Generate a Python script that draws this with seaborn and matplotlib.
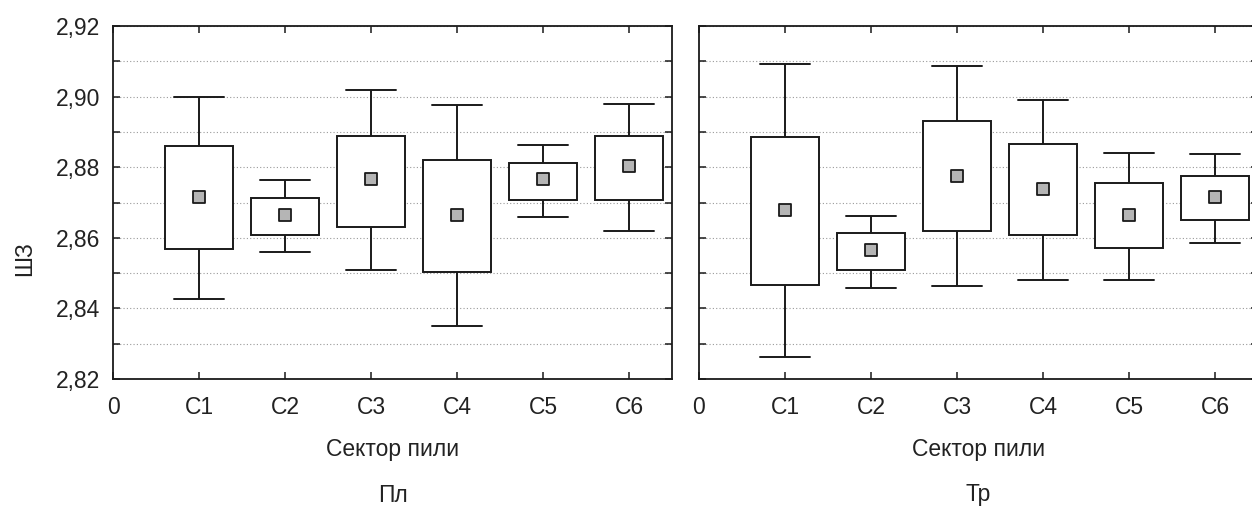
import numpy as np
import pandas as pd
import matplotlib
matplotlib.use("Agg")
import matplotlib.pyplot as plt
import seaborn as sns
from matplotlib.ticker import MultipleLocator, FuncFormatter

# ---- data ----
sectors = ["C1", "C2", "C3", "C4", "C5", "C6"]

pl_min = [2.8427, 2.8559, 2.8508, 2.8349, 2.8658, 2.8618]
pl_q1 = [2.8568, 2.8608, 2.8631, 2.8503, 2.8708, 2.8708]
pl_med = [2.8716, 2.8665, 2.8766, 2.8665, 2.8766, 2.8802]
pl_q3 = [2.8859, 2.8713, 2.8889, 2.8821, 2.8813, 2.8889]
pl_max = [2.9000, 2.8763, 2.9018, 2.8976, 2.8862, 2.8980]

tr_min = [2.8262, 2.8459, 2.8463, 2.8481, 2.8481, 2.8585]
tr_q1 = [2.8467, 2.8509, 2.8618, 2.8608, 2.8572, 2.8650]
tr_med = [2.8679, 2.8565, 2.8774, 2.8738, 2.8665, 2.8715]
tr_q3 = [2.8886, 2.8613, 2.8931, 2.8867, 2.8754, 2.8776]
tr_max = [2.9091, 2.8663, 2.9086, 2.8990, 2.8839, 2.8836]

panel_titles = ["Пл", "Тр"]
x_title = "Сектор пили"
y_title = "ШЗ"
y_ticks = [2.82, 2.84, 2.86, 2.88, 2.90, 2.92]


def long_frame(mins, q1s, meds, q3s, maxs):
    rows = []
    for s, a, b, c, d, e in zip(sectors, mins, q1s, meds, q3s, maxs):
        for v in (a, b, c, d, e):
            rows.append({"sector": s, "value": v})
    return pd.DataFrame(rows)


panels = [
    (long_frame(pl_min, pl_q1, pl_med, pl_q3, pl_max), pl_med),
    (long_frame(tr_min, tr_q1, tr_med, tr_q3, tr_max), tr_med),
]

sns.set_style("white")
plt.rcParams["font.family"] = ["Liberation Sans", "DejaVu Sans"]

W, H = 1252, 507
fig = plt.figure(figsize=(W / 100, H / 100), dpi=100)
ax1 = fig.add_axes([113 / W, 1 - 379 / H, 559 / W, 353 / H])
ax2 = fig.add_axes([699 / W, 1 - 379 / H, 559 / W, 353 / H])

edge = "#1a1a1a"
txt = "#222222"
order = ["0"] + sectors
FS = 16.5

for i, (ax, (df, meds), title) in enumerate(zip([ax1, ax2], panels, panel_titles)):
    sns.boxplot(data=df, x="sector", y="value", order=order, whis=(0, 100),
                width=0.8, color="white", linecolor=edge, linewidth=1.4,
                fill=True, saturation=1, showfliers=False,
                medianprops=dict(linewidth=0), ax=ax, zorder=3)
    sns.stripplot(x=sectors, y=meds, order=order, jitter=False, marker="s",
                  size=8.5, color="#b5b5b5", edgecolor=edge, linewidth=1.3,
                  ax=ax, zorder=6)
    # widen whisker caps
    for ln in ax.lines:
        xd = np.asarray(ln.get_xdata(), dtype=float)
        yd = np.asarray(ln.get_ydata(), dtype=float)
        if len(xd) == 2 and yd[0] == yd[1] and abs(abs(xd[1] - xd[0]) - 0.4) < 1e-6:
            c = xd.mean()
            ln.set_xdata([c - 0.285, c + 0.285])

    ax.set_xlim(0, 6.5)
    ax.set_ylim(2.82, 2.92)
    ax.set_yticks(y_ticks)
    ax.yaxis.set_minor_locator(MultipleLocator(0.01))
    ax.yaxis.set_major_formatter(FuncFormatter(lambda v, p: f"{v:.2f}".replace(".", ",")))
    ax.grid(True, which="both", axis="y", linestyle=(0, (1, 2)), color="#9a9a9a",
            linewidth=0.8, zorder=0)
    ax.grid(False, axis="x")
    ax.set_axisbelow(True)
    ax.tick_params(axis="both", which="both", direction="in", length=5, width=1.1,
                   color=edge, top=True, right=True, bottom=True, left=True,
                   labelsize=FS, labelcolor=txt)
    ax.tick_params(axis="x", pad=12)
    ax.tick_params(axis="y", pad=9)
    for sp in ax.spines.values():
        sp.set_visible(True)
        sp.set_color(edge)
        sp.set_linewidth(1.3)
    ax.set_xlabel(x_title, fontsize=FS, labelpad=14, color=txt)
    ax.set_ylabel("")
    if i == 1:
        ax.tick_params(axis="y", labelleft=False)
    pos = ax.get_position()
    fig.text(pos.x0 + pos.width / 2, 1 - 495 / H, title,
             ha="center", va="center", fontsize=FS, color=txt)

fig.text(25 / W, 1 - 259 / H, y_title, rotation=90, ha="center", va="center",
         fontsize=FS, color=txt)

fig.savefig("out.png", dpi=100, facecolor="white")
